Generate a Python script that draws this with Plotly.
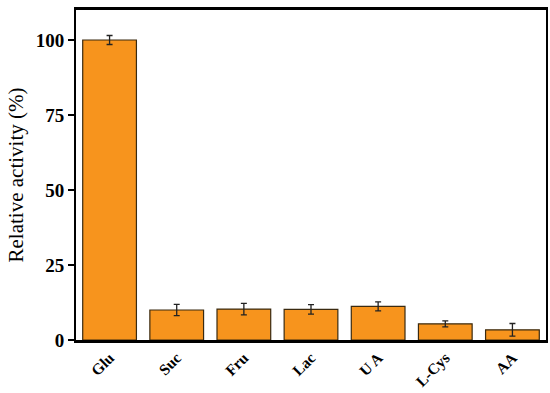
import plotly.graph_objects as go

categories = ["Glu", "Suc", "Fru", "Lac", "U A", "L-Cys", "AA"]
values = [100.0, 10.0, 10.3, 10.2, 11.2, 5.4, 3.4]
errors = [1.5, 1.9, 1.9, 1.6, 1.5, 1.0, 2.1]
y_ticks = [0, 25, 50, 75, 100]

fig = go.Figure(go.Bar(
    x=categories, y=values,
    marker=dict(color="#F7941D", line=dict(color="#3a2a10", width=1.2)),
    error_y=dict(type="data", array=errors, color="#222222", thickness=1.3, width=3),
))

font_family = "Liberation Serif, Times New Roman, serif"
fig.update_layout(
    width=550, height=393,
    margin=dict(l=76, r=4, t=10, b=53),
    plot_bgcolor="white", paper_bgcolor="white",
    bargap=0.2, showlegend=False,
    font=dict(family=font_family, color="black"),
)
fig.update_xaxes(
    range=[-0.5, 6.5], showline=True, linecolor="black", linewidth=2.5, mirror=True,
    ticks="", tickangle=-45, tickfont=dict(size=15.5, family=font_family, weight="bold"),
    showgrid=False, automargin=False,
)
fig.update_yaxes(
    range=[0, 110], tickvals=y_ticks, showline=True, linecolor="black", linewidth=2, mirror=True,
    ticks="outside", ticklen=6, tickwidth=2, tickcolor="black",
    tickfont=dict(size=19, family=font_family, weight="bold"),
    title=dict(text="Relative activity (%)", font=dict(size=21, family=font_family), standoff=6),
    showgrid=False, zeroline=False, automargin=False,
)
fig.write_html(
    "out.html",
    config={"displayModeBar": False},
    post_script="document.body.style.margin='0';document.body.style.overflow='hidden';",
)
